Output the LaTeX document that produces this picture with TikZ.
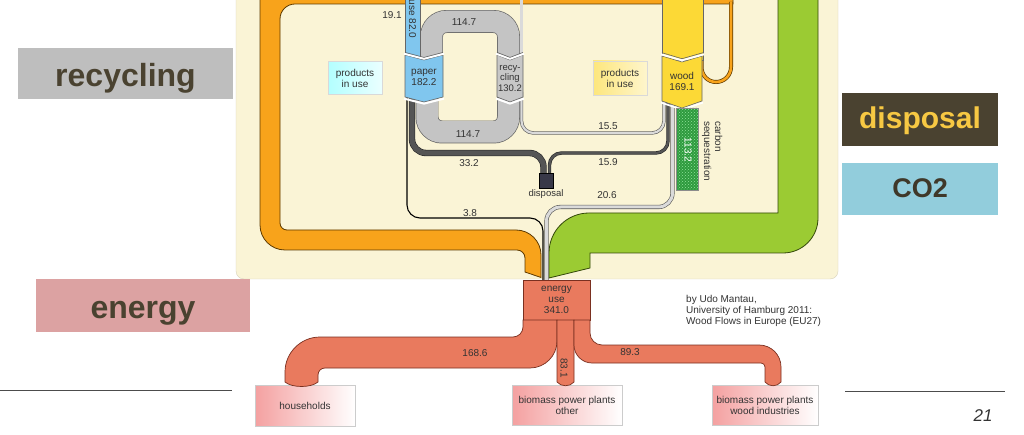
\documentclass[tikz,border=0pt]{standalone}
\usepackage{fontspec}
\setmainfont{Liberation Sans}
\usetikzlibrary{patterns}
\definecolor{panel}{HTML}{FAF4D6}
\definecolor{panelborder}{HTML}{D9D3BC}
\definecolor{orng}{HTML}{F8A31B}
\definecolor{orngdark}{HTML}{5E3A00}
\definecolor{grn}{HTML}{9BCB33}
\definecolor{grndark}{HTML}{34490A}
\definecolor{bluebar}{HTML}{80C6EE}
\definecolor{greyarch}{HTML}{C4C4C4}
\definecolor{lightline}{HTML}{DADADA}
\definecolor{greydark}{HTML}{555555}
\definecolor{ylw}{HTML}{FCD936}
\definecolor{salmon}{HTML}{E97A5E}
\definecolor{salmondark}{HTML}{7A3020}
\definecolor{disp}{HTML}{383848}
\definecolor{pinkbox}{HTML}{F4A0A0}
\definecolor{labgrey}{HTML}{BEBEBE}
\definecolor{labpink}{HTML}{DCA2A2}
\definecolor{labdark}{HTML}{4A4230}
\definecolor{labblue}{HTML}{92CDDC}
\definecolor{labyellow}{HTML}{F7C843}
\definecolor{txt}{HTML}{333333}
\definecolor{carbon}{HTML}{2E9A3E}
\definecolor{carbonlight}{HTML}{8FE39A}
\begin{document}
\begin{tikzpicture}[x=1pt,y=-1pt,
  txtsm/.style={font=\fontsize{10}{11}\selectfont, text=txt, inner sep=0pt, align=center},
  biglab/.style={font=\fontsize{32}{34}\selectfont\bfseries, inner sep=0pt, anchor=base},
  edge/.style={draw=black!60, line width=0.6},
  lgline/.style={draw=black!65, line width=0.6, double=lightline, double distance=#1},
  dkline/.style={draw=black!85, line width=0.6, double=greydark, double distance=#1},
  archline/.style={draw=black!60, line width=0.7, double=greyarch, double distance=21.5, rounded corners=15},
  salmonflow/.style={fill=salmon, draw=salmondark, line width=0.7},
  destbox/.style={draw=black!20, left color=pinkbox, right color=white, inner sep=0pt, txtsm}
]
\useasboundingbox (0,0) rectangle (1024,435);
\clip (0,0) rectangle (1024,435);
\fill[white] (0,0) rectangle (1024,435);

% panel
\draw[panelborder, fill=panel, rounded corners=8] (236,-20) rectangle (838,279);

% side labels
\node[fill=labgrey, minimum width=215, minimum height=51, inner sep=0pt] (brec) at (125.5,73.5) {};
\node[biglab, text=labdark] (lrec) at (125.5,87) {recycling};
\node[fill=labpink, minimum width=214, minimum height=52, inner sep=0pt] (bene) at (143,305.5) {};
\node[biglab, text=labdark] (lene) at (143,318) {energy};
\node[fill=labdark, minimum width=156, minimum height=53, inner sep=0pt] (bdis) at (920,119.5) {};
\node[biglab, font=\fontsize{30}{32}\selectfont\bfseries, text=labyellow] (ldis) at (920,129) {disposal};
\node[fill=labblue, minimum width=156, minimum height=52, inner sep=0pt] (bco) at (920,189) {};
\node[biglab, font=\fontsize{27}{30}\selectfont\bfseries, text=labdark!85!black] (lco) at (920,198) {CO2};

% rules and page number
\draw[black!70, line width=0.8] (0,390.5) -- (232,390.5);
\draw[black!70, line width=0.8] (845,391) -- (1005,391);
\node[font=\fontsize{17}{17}\selectfont\itshape, text=txt, inner sep=0pt] (pg) at (983,416) {21};

% orange flow
\draw[fill=orng, draw=orngdark, line width=0.8]
 (260,-30) -- (260,225) .. controls (260,238.8) and (271.2,250) .. (285,250)
 -- (517,250) .. controls (521.4,250) and (525,253.6) .. (525,258)
 -- (525,272) -- (541,277.5) -- (541,255)
 .. controls (541,241.2) and (529.8,230) .. (516,230)
 -- (287,230) .. controls (283.1,230) and (280,226.9) .. (280,223)
 -- (280,19) .. controls (280,10.7) and (286.7,4) .. (295,4)
 -- (733,4) -- (733,-30) -- cycle;

% green flow
\draw[fill=grn, draw=grndark, line width=0.8]
 (818,-30) -- (818,218) .. controls (818,237.3) and (802.3,253) .. (783,253)
 -- (590,253) -- (590,268) -- (549,278) -- (549,253)
 .. controls (549,230.9) and (566.9,213) .. (589,213)
 -- (778,213) -- (778,-30) -- cycle;

% orange loop into wood
\draw[draw=orngdark, line width=0.7, double=orng, double distance=2.6]
 (731,2) -- (731,67) .. controls (731,75.3) and (724.3,82) .. (716,82)
 .. controls (707.7,82) and (701.5,75.3) .. (701.5,67) -- (701.5,57);

% recycling arches
\draw[archline] (431.5,62) -- (431.5,21.5) -- (508.5,21.5) -- (508.5,62);
\draw[archline] (427,92) -- (427,132) -- (508.5,132) -- (508.5,92);

% thin flows
\draw[lgline=2.2] (521.5,-5) -- (521.5,62);
\draw[lgline=2.2, rounded corners=12] (664,100) -- (664,133) -- (521.5,133) -- (521.5,92);
\draw[dkline=5.2, rounded corners=14] (412,92) -- (412,153) -- (543.5,153) -- (543.5,178);
\draw[dkline=2.2, rounded corners=12] (668,100) -- (668,153) -- (549.5,153) -- (549.5,178);
\draw[lgline=3, rounded corners=14] (672.5,100) -- (672.5,207) -- (546.5,207) -- (546.5,282);
\draw[black, line width=1.1, rounded corners=13] (407,92) -- (407,218) -- (543,218) -- (543,282);

% upper bars
\draw[fill=bluebar, edge] (405,-10) rectangle (420,60);
\draw[fill=ylw, edge] (662,-10) rectangle (703,60);

% paper box
\draw[fill=bluebar, edge] (405,55) -- (424,60) -- (443,55) -- (443,97) -- (424,102) -- (405,97) -- cycle;
\draw[white, line width=2] (404,53.7) -- (424,58.7) -- (444,53.7);
\draw[black!60, line width=0.6] (405,52.4) -- (424,57.4) -- (443,52.4);
\draw[white, line width=2] (404,98.6) -- (424,103.6) -- (444,98.6);

% recycling box
\draw[fill=greyarch!95!white, edge] (497,55) -- (510,60) -- (523,55) -- (523,97) -- (510,102) -- (497,97) -- cycle;
\draw[white, line width=2] (496,53.7) -- (510,58.7) -- (524,53.7);
\draw[black!60, line width=0.6] (497,52.4) -- (510,57.4) -- (523,52.4);
\draw[white, line width=2] (496,98.6) -- (510,103.6) -- (524,98.6);

% wood box
\draw[fill=ylw, edge] (662,56) -- (682,62) -- (702,56) -- (702,101) -- (682,108) -- (662,101) -- cycle;
\draw[white, line width=2] (661,54.3) -- (682,60.3) -- (704,54.3);
\draw[black!60, line width=0.6] (662,52.7) -- (682,58.7) -- (703,52.7);
\draw[white, line width=1.6] (661,102.6) -- (682,109.6) -- (703,102.6);

% carbon sequestration bar
\fill[carbon] (676,108) rectangle (698,190);
\fill[pattern=crosshatch dots, pattern color=carbonlight] (676,108) rectangle (698,190);
\draw[black!45, line width=0.5] (676,108) rectangle (698,190);

% products in use boxes
\node[draw=black!15, left color=cyan!30, right color=cyan!8, minimum width=54, minimum height=33, txtsm] (piul) at (355,78) {products\\in use};
\node[draw=black!15, left color=ylw!65, right color=ylw!25, minimum width=54, minimum height=34, txtsm] (piur) at (620,78) {products\\in use};

% disposal box
\draw[fill=disp, draw=black, line width=0.6] (539,173) rectangle (553,188);
\node[txtsm, font=\fontsize{9.5}{10}\selectfont] (tdisp) at (546,194) {disposal};

% energy use box
\node[draw=salmondark, fill=salmon, line width=0.7, minimum width=67, minimum height=40, inner sep=0pt] (euse) at (556.5,300) {};
\node[txtsm] (eusetxt) at (556.5,300) {energy\\use\\341.0};

% destination boxes
\node[destbox, minimum width=100, minimum height=41] (hh) at (305,405.5) {households};
\node[destbox, minimum width=110, minimum height=40] (bpo) at (567,405) {biomass power plants\\other};
\node[destbox, minimum width=106, minimum height=40] (bpw) at (765,405) {biomass power plants\\wood industries};

% energy outflows
\draw[salmonflow]
 (523,320) -- (523,327) .. controls (523,332.5) and (518.5,337) .. (513,337)
 -- (320,337) .. controls (300.7,337) and (285,352.7) .. (285,372)
 -- (285,382) .. controls (292,388) and (311,388) .. (318,382)
 -- (318,375) .. controls (318,371.1) and (321.1,368) .. (325,368)
 -- (530,368) .. controls (544.9,368) and (557,355.9) .. (557,341)
 -- (557,320) -- cycle;
\draw[salmonflow] (557,320) -- (557,382) .. controls (561,387) and (570,387) .. (574,382) -- (574,320) -- cycle;
\draw[salmonflow]
 (574,320) -- (574,345) .. controls (574,354.9) and (582.1,363) .. (592,363)
 -- (761,363) .. controls (763.2,363) and (765,364.8) .. (765,367)
 -- (765,382) .. controls (769,387) and (777,387) .. (781,382)
 -- (781,367) .. controls (781,354.8) and (771.2,345) .. (759,345)
 -- (602,345) .. controls (595.4,345) and (590,339.6) .. (590,333)
 -- (590,320) -- cycle;

% labels
\node[txtsm] (t191) at (392,15.5) {19.1};
\node[txtsm] (t1147a) at (464,22.5) {114.7};
\node[txtsm] (t1147b) at (468,134) {114.7};
\node[txtsm] (t155) at (608,126.5) {15.5};
\node[txtsm] (t332) at (469,163.5) {33.2};
\node[txtsm] (t159) at (608,162) {15.9};
\node[txtsm] (t206) at (607,195) {20.6};
\node[txtsm] (t38) at (470,213.5) {3.8};
\node[txtsm] (paper) at (424,77) {paper\\182.2};
\node[txtsm, font=\fontsize{9.5}{10.5}\selectfont] (recy) at (510,78) {recy-\\cling\\130.2};
\node[txtsm] (wood) at (682,81) {wood\\169.1};
\node[txtsm, rotate=-90] (use) at (412.5,19) {use 82.0};
\node[txtsm, rotate=-90, text=white] (tcarb) at (688,150) {113.2};
\node[txtsm, rotate=-90, anchor=north west, align=left] (lcarb) at (722.5,121) {carbon\\sequestration};
\node[txtsm, rotate=-90] (t831) at (564,368) {83.1};
\node[txtsm] (t1686) at (475,353) {168.6};
\node[txtsm] (t893) at (630,352) {89.3};
\node[txtsm, align=left, anchor=north west] (credit) at (686,295) {by Udo Mantau,\\University of Hamburg 2011:\\Wood Flows in Europe (EU27)};
\end{tikzpicture}
\end{document}
